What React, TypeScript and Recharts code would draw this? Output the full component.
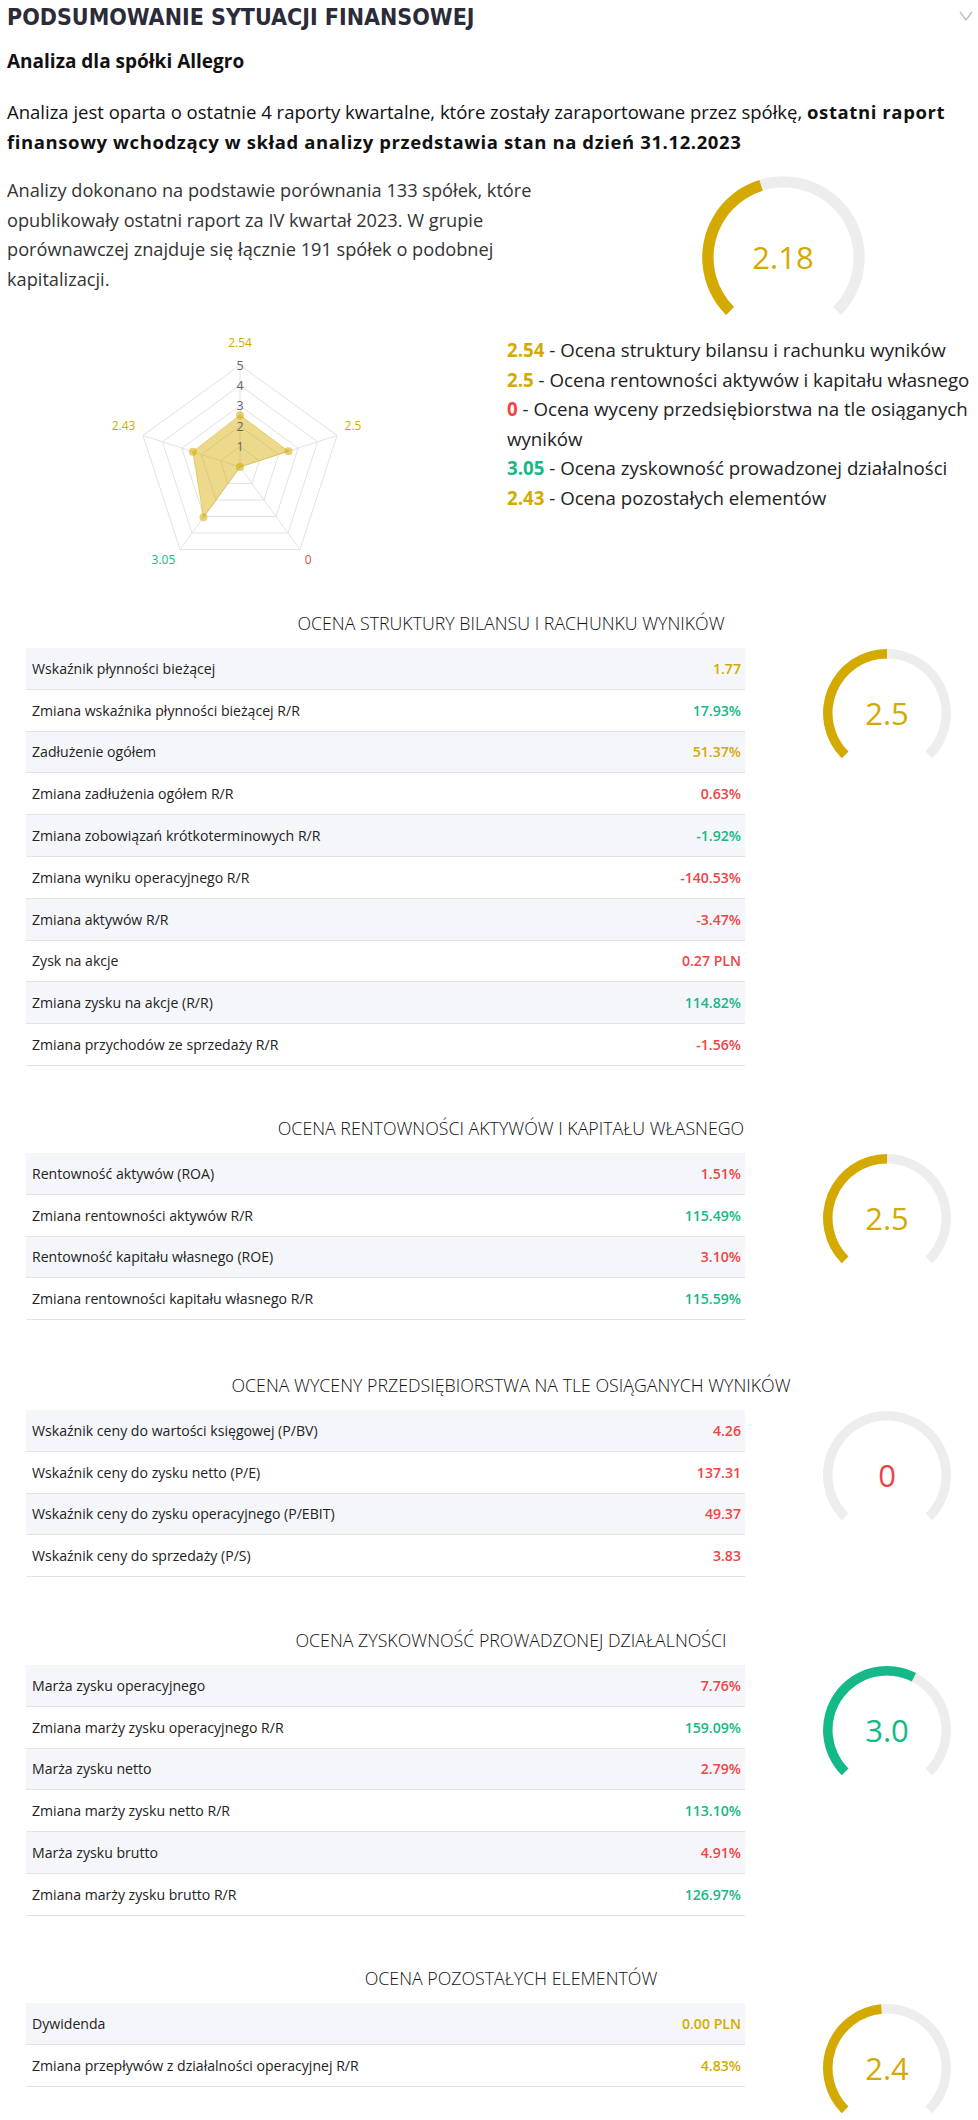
import React from 'react';
import {
  RadarChart,
  Radar,
  PolarGrid,
  PolarAngleAxis,
  PolarRadiusAxis,
  RadialBarChart,
  RadialBar,
} from 'recharts';

const GOLD = '#d4aa00';
const GREEN = '#13b987';
const RED = '#ef4444';
const TONES: Record<string, string> = { gold: GOLD, green: GREEN, red: RED };
const FONT = '"Open Sans", "Noto Sans", sans-serif';

// radar / summary
const radarCategories = ['Struktura', 'Rentowność', 'Wycena', 'Zyskowność', 'Pozostałe'];
const radarScores = [2.54, 2.5, 0, 3.05, 2.43];
const radarScoreLabels = ['2.54', '2.5', '0', '3.05', '2.43'];
const radarTones = ['gold', 'gold', 'red', 'green', 'gold'];
const legendNames = [
  'Ocena struktury bilansu i rachunku wyników',
  'Ocena rentowności aktywów i kapitału własnego',
  'Ocena wyceny przedsiębiorstwa na tle osiąganych',
  'Ocena zyskowność prowadzonej działalności',
  'Ocena pozostałych elementów',
];
const legendWrap = ['', '', 'wyników', '', ''];

const overallScore = 2.18;
const overallLabel = '2.18';

// sections
const sectionTitles = [
  'OCENA STRUKTURY BILANSU I RACHUNKU WYNIKÓW',
  'OCENA RENTOWNOŚCI AKTYWÓW I KAPITAŁU WŁASNEGO',
  'OCENA WYCENY PRZEDSIĘBIORSTWA NA TLE OSIĄGANYCH WYNIKÓW',
  'OCENA ZYSKOWNOŚĆ PROWADZONEJ DZIAŁALNOŚCI',
  'OCENA POZOSTAŁYCH ELEMENTÓW',
];
const sectionScores = [2.5, 2.5, 0, 3.0, 2.4];
const sectionScoreLabels = ['2.5', '2.5', '0', '3.0', '2.4'];
const sectionTones = ['gold', 'gold', 'red', 'green', 'gold'];

const structureLabels = [
  'Wskaźnik płynności bieżącej',
  'Zmiana wskaźnika płynności bieżącej R/R',
  'Zadłużenie ogółem',
  'Zmiana zadłużenia ogółem R/R',
  'Zmiana zobowiązań krótkoterminowych R/R',
  'Zmiana wyniku operacyjnego R/R',
  'Zmiana aktywów R/R',
  'Zysk na akcje',
  'Zmiana zysku na akcje (R/R)',
  'Zmiana przychodów ze sprzedaży R/R',
];
const structureValues = ['1.77', '17.93%', '51.37%', '0.63%', '-1.92%', '-140.53%', '-3.47%', '0.27 PLN', '114.82%', '-1.56%'];
const structureTones = ['gold', 'green', 'gold', 'red', 'green', 'red', 'red', 'red', 'green', 'red'];

const profitabilityLabels = [
  'Rentowność aktywów (ROA)',
  'Zmiana rentowności aktywów R/R',
  'Rentowność kapitału własnego (ROE)',
  'Zmiana rentowności kapitału własnego R/R',
];
const profitabilityValues = ['1.51%', '115.49%', '3.10%', '115.59%'];
const profitabilityTones = ['red', 'green', 'red', 'green'];

const valuationLabels = [
  'Wskaźnik ceny do wartości księgowej (P/BV)',
  'Wskaźnik ceny do zysku netto (P/E)',
  'Wskaźnik ceny do zysku operacyjnego (P/EBIT)',
  'Wskaźnik ceny do sprzedaży (P/S)',
];
const valuationValues = ['4.26', '137.31', '49.37', '3.83'];
const valuationTones = ['red', 'red', 'red', 'red'];

const marginLabels = [
  'Marża zysku operacyjnego',
  'Zmiana marży zysku operacyjnego R/R',
  'Marża zysku netto',
  'Zmiana marży zysku netto R/R',
  'Marża zysku brutto',
  'Zmiana marży zysku brutto R/R',
];
const marginValues = ['7.76%', '159.09%', '2.79%', '113.10%', '4.91%', '126.97%'];
const marginTones = ['red', 'green', 'red', 'green', 'red', 'green'];

const otherLabels = ['Dywidenda', 'Zmiana przepływów z działalności operacyjnej R/R'];
const otherValues = ['0.00 PLN', '4.83%'];
const otherTones = ['gold', 'gold'];

const sectionRows = [
  { labels: structureLabels, values: structureValues, tones: structureTones },
  { labels: profitabilityLabels, values: profitabilityValues, tones: profitabilityTones },
  { labels: valuationLabels, values: valuationValues, tones: valuationTones },
  { labels: marginLabels, values: marginValues, tones: marginTones },
  { labels: otherLabels, values: otherValues, tones: otherTones },
];

// layout
const sectionTitleY = [623, 1128, 1385, 1640, 1978];
const ROW_H = 41.8;

function Gauge({ cx, cy, outer, thickness, value, label, color, fontSize }: any) {
  const size = outer * 2 + 8;
  return (
    <div style={{ position: 'absolute', left: cx - size / 2, top: cy - size / 2, width: size, height: size }}>
      <RadialBarChart
        width={size}
        height={size}
        cx={size / 2}
        cy={size / 2}
        innerRadius={outer - thickness}
        outerRadius={outer}
        startAngle={225}
        endAngle={-45}
        barCategoryGap={0}
        data={[{ value }]}
        margin={{ top: 0, right: 0, bottom: 0, left: 0 }}
      >
        <PolarAngleAxis type="number" domain={[0, 5]} tick={false} axisLine={false} />
        <RadialBar
          dataKey="value"
          fill={color}
          background={{ fill: '#ededed' }}
          barSize={thickness}
          isAnimationActive={false}
        />
      </RadialBarChart>
      <div
        style={{
          position: 'absolute',
          left: 0,
          top: 0,
          width: size,
          height: size,
          display: 'flex',
          alignItems: 'center',
          justifyContent: 'center',
          color,
          fontSize,
          fontFamily: FONT,
        }}
      >
        {label}
      </div>
    </div>
  );
}

const angleTickDy = [-10, -3, 8, 8, -3];

function AngleTick(props: any) {
  const { x, y, textAnchor, payload } = props;
  const i = radarCategories.indexOf(payload.value);
  return (
    <text x={x} y={y} dy={angleTickDy[i]} textAnchor={textAnchor} fill={TONES[radarTones[i]]} fontSize={12} fontFamily={FONT}>
      {radarScoreLabels[i]}
    </text>
  );
}

function RadiusTick(props: any) {
  const { x, y, payload } = props;
  if (payload.value === 0) return <g />;
  return (
    <text x={x} y={y} dy={4.5} textAnchor="middle" fill="#666" fontSize={12.5} fontFamily={FONT}>
      {payload.value}
    </text>
  );
}

function ScoreRadar() {
  const data = radarCategories.map((name, i) => ({ name, score: radarScores[i] }));
  return (
    <div style={{ position: 'absolute', left: 90, top: 327 }}>
      <RadarChart width={300} height={280} cx={150} cy={140} outerRadius={102} data={data}>
        <PolarGrid gridType="polygon" stroke="#e2e2e2" />
        <PolarAngleAxis dataKey="name" tick={AngleTick} tickLine={false} axisLine={false} />
        <PolarRadiusAxis angle={90} domain={[0, 5]} tickCount={6} axisLine={false} tick={RadiusTick} />
        <Radar
          dataKey="score"
          stroke={GOLD}
          strokeOpacity={0.45}
          fill={GOLD}
          fillOpacity={0.45}
          dot={{ r: 4, fill: GOLD, fillOpacity: 0.55, stroke: 'none' }}
          isAnimationActive={false}
        />
      </RadarChart>
    </div>
  );
}

function Section({ index }: { index: number }) {
  const titleY = sectionTitleY[index];
  const rowTop = titleY + 25;
  const rows = sectionRows[index];
  return (
    <>
      <div
        style={{
          position: 'absolute',
          left: 161,
          width: 700,
          top: titleY - 12,
          lineHeight: '24px',
          textAlign: 'center',
          fontSize: 17.8,
          fontWeight: 300,
          color: '#111',
          whiteSpace: 'nowrap',
        }}
      >
        {sectionTitles[index]}
      </div>
      <div style={{ position: 'absolute', left: 26, top: rowTop, width: 719 }}>
        {rows.labels.map((label, i) => (
          <div
            key={label}
            style={{
              height: ROW_H,
              boxSizing: 'border-box',
              borderBottom: '1px solid #e3e3e6',
              background: i % 2 === 0 ? '#f5f6fa' : '#fff',
              display: 'flex',
              alignItems: 'center',
              justifyContent: 'space-between',
              padding: '0 4px 0 6px',
              fontSize: 14.1,
              whiteSpace: 'nowrap',
            }}
          >
            <span style={{ color: '#222' }}>{label}</span>
            <span style={{ color: TONES[rows.tones[i]], fontWeight: 600 }}>{rows.values[i]}</span>
          </div>
        ))}
      </div>
      <Gauge
        cx={887}
        cy={rowTop + 65}
        outer={64}
        thickness={10.5}
        value={sectionScores[index]}
        label={sectionScoreLabels[index]}
        color={TONES[sectionTones[index]]}
        fontSize={31}
      />
    </>
  );
}

export default function App() {
  return (
    <div
      style={{
        position: 'absolute',
        left: 0,
        top: 0,
        width: 978,
        height: 2120,
        background: '#fff',
        fontFamily: FONT,
        overflow: 'hidden',
      }}
    >
      <div
        style={{
          position: 'absolute',
          left: 7,
          top: 2,
          lineHeight: '30px',
          fontFamily: '"DejaVu Sans Condensed", "DejaVu Sans", sans-serif',
          fontStretch: 'condensed',
          fontWeight: 700,
          fontSize: 23,
          color: '#2b2b3a',
          whiteSpace: 'nowrap',
        }}
      >
        PODSUMOWANIE SYTUACJI FINANSOWEJ
      </div>
      <svg style={{ position: 'absolute', left: 958, top: 10 }} width={18} height={12}>
        <polyline points="2,2 8,10 14,2" fill="none" stroke="#b9b9c0" strokeWidth={1.3} />
      </svg>

      <div style={{ position: 'absolute', left: 7, top: 48, lineHeight: '26px', fontSize: 19, fontWeight: 700, color: '#111', whiteSpace: 'nowrap' }}>
        Analiza dla spółki Allegro
      </div>

      <div style={{ position: 'absolute', left: 7, top: 97, lineHeight: '29.7px', fontSize: 18.5, color: '#111', whiteSpace: 'nowrap' }}>
        Analiza jest oparta o ostatnie 4 raporty kwartalne, które zostały zaraportowane przez spółkę,{' '}
        <b style={{ letterSpacing: 0.6 }}>ostatni raport</b>
        <br />
        <b style={{ letterSpacing: 0.6 }}>finansowy wchodzący w skład analizy przedstawia stan na dzień 31.12.2023</b>
      </div>

      <div style={{ position: 'absolute', left: 7, top: 176, lineHeight: '29.7px', fontSize: 18.2, color: '#333', whiteSpace: 'nowrap' }}>
        Analizy dokonano na podstawie porównania 133 spółek, które
        <br />
        opublikowały ostatni raport za IV kwartał 2023. W grupie
        <br />
        porównawczej znajduje się łącznie 191 spółek o podobnej
        <br />
        kapitalizacji.
      </div>

      <Gauge cx={783} cy={257} outer={81.5} thickness={12.5} value={overallScore} label={overallLabel} color={GOLD} fontSize={31} />

      <ScoreRadar />

      <div style={{ position: 'absolute', left: 507, top: 335, lineHeight: '29.6px', fontSize: 18.7, color: '#222', whiteSpace: 'nowrap' }}>
        {legendNames.map((name, i) => (
          <React.Fragment key={name}>
            <div>
              <b style={{ color: TONES[radarTones[i]] }}>{radarScoreLabels[i]}</b> - {name}
            </div>
            {legendWrap[i] ? <div>{legendWrap[i]}</div> : null}
          </React.Fragment>
        ))}
      </div>

      {sectionTitles.map((t, i) => (
        <Section key={t} index={i} />
      ))}
    </div>
  );
}
